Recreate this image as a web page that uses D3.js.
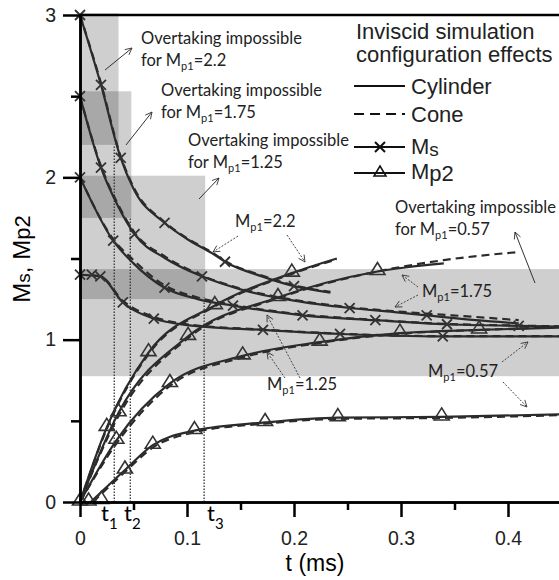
<!DOCTYPE html>
<head>
  <meta charset="utf-8">
  <script src="https://d3js.org/d3.v7.min.js"></script>
  <style>
body {
	margin: 0;
	background: #fff;
	}
.axis text {
	font-family: "Liberation Sans", Arial, sans-serif;
	font-size: 19.5px;
	fill: #222;
	}
.axis path, .axis line {
	stroke: #000;
	stroke-width: 2.5px;
	}
.note {
	font-family: Lato, "Open Sans", sans-serif;
	font-size: 16.5px;
	fill: #222;
	}
.legend {
	font-family: "Liberation Sans", Arial, sans-serif;
	font-size: 22px;
	fill: #222;
	}
  </style>
</head>

<body>
  <div id="graph"></div>
<script>
// shaded "overtaking impossible" zones, one per Mp1
var zoneMp1  = ["2.2", "1.75", "1.25", "0.57"];
var zoneEnd  = [0.036, 0.048, 0.117, 0.45];
var zoneLow  = [2.2, 1.75, 1.25, 0.775];
var zoneHigh = [3.01, 2.53, 2.01, 1.435];

// t1, t2, t3 and the Ms level where each dotted line stops
var tMarks  = [0.032, 0.047, 0.116];
var tMarkTop = [2.2, 1.75, 1.26];

// Ms curves, cylinder (solid)
var ms22  = [[0,3.0],[0.0196,2.57],[0.038,2.12],[0.05,1.93],[0.079,1.72],[0.1,1.62],[0.124,1.53],[0.1355,1.48],[0.17,1.39],[0.2,1.33],[0.234,1.29]];
var ms175 = [[0,2.5],[0.0196,2.06],[0.035,1.83],[0.051,1.65],[0.08,1.5],[0.114,1.39],[0.15,1.31],[0.2,1.24],[0.252,1.195],[0.294,1.17],[0.324,1.15],[0.37,1.12],[0.41,1.1]];
var ms125 = [[0,2.0],[0.031,1.61],[0.05,1.47],[0.079,1.32],[0.11,1.25],[0.143,1.21],[0.208,1.15],[0.276,1.12],[0.343,1.095],[0.41,1.085],[0.45,1.08]];
var ms057 = [[0,1.4],[0.019,1.39],[0.04,1.23],[0.069,1.13],[0.1,1.09],[0.171,1.06],[0.243,1.035],[0.339,1.02],[0.45,1.02]];

// Ms curves, cone (dashed)
var ms22c  = [[0,3.0],[0.0196,2.58],[0.038,2.13],[0.05,1.94],[0.079,1.725],[0.1,1.625],[0.124,1.535],[0.1355,1.485],[0.17,1.395],[0.2,1.335],[0.234,1.295]];
var ms175c = [[0,2.5],[0.0196,2.07],[0.035,1.84],[0.051,1.66],[0.08,1.51],[0.114,1.395],[0.15,1.315],[0.2,1.245],[0.252,1.2],[0.294,1.175],[0.324,1.16],[0.37,1.14],[0.41,1.12]];
var ms125c = [[0,2.0],[0.031,1.62],[0.05,1.49],[0.079,1.335],[0.11,1.26],[0.143,1.215],[0.208,1.155],[0.276,1.122],[0.343,1.097],[0.41,1.087],[0.45,1.082]];
var ms057c = [[0,1.4],[0.019,1.39],[0.04,1.24],[0.069,1.14],[0.1,1.095],[0.171,1.062],[0.243,1.037],[0.339,1.022],[0.45,1.022]];

// Mp2 curves, cylinder (solid)
var mp22  = [[0,0],[0.025,0.46],[0.064,0.92],[0.126,1.21],[0.198,1.41],[0.24,1.5]];
var mp175 = [[0,0],[0.036,0.55],[0.101,1.02],[0.185,1.26],[0.278,1.42],[0.34,1.47]];
var mp125 = [[0,0],[0.034,0.38],[0.084,0.73],[0.152,0.9],[0.224,0.985],[0.299,1.04],[0.373,1.06],[0.45,1.075]];
var mp057 = [[0.01,0],[0.042,0.197],[0.068,0.35],[0.107,0.44],[0.173,0.49],[0.241,0.52],[0.338,0.524],[0.45,0.54]];

// Mp2 curves, cone (dashed)
var mp22c  = [[0,0],[0.025,0.45],[0.064,0.91],[0.126,1.205],[0.198,1.405],[0.24,1.495]];
var mp175c = [[0,0],[0.036,0.53],[0.101,1.01],[0.185,1.255],[0.278,1.42],[0.34,1.49],[0.41,1.54]];
var mp125c = [[0,0],[0.034,0.36],[0.084,0.715],[0.152,0.89],[0.224,0.98],[0.299,1.037],[0.373,1.06],[0.45,1.078]];
var mp057c = [[0.012,0],[0.042,0.185],[0.068,0.335],[0.107,0.43],[0.173,0.483],[0.241,0.512],[0.338,0.518],[0.45,0.535]];

// marker positions
var msMarks = [[0,3.0],[0.0196,2.57],[0.038,2.12],[0.079,1.72],[0.1355,1.48],[0.2,1.33],
               [0,2.5],[0.0196,2.06],[0.051,1.65],[0.114,1.39],[0.252,1.195],[0.324,1.15],
               [0,2.0],[0.031,1.61],[0.079,1.32],[0.143,1.21],[0.208,1.15],[0.276,1.12],[0.343,1.095],[0.41,1.085],
               [0,1.4],[0.011,1.4],[0.019,1.39],[0.04,1.23],[0.069,1.13],[0.171,1.06],[0.243,1.035],[0.339,1.02]];
var mpMarks = [[0,0],[0.025,0.46],[0.064,0.92],[0.126,1.21],[0.198,1.41],
               [0.008,0],[0.036,0.55],[0.101,1.02],[0.185,1.26],[0.278,1.42],
               [0.034,0.38],[0.084,0.73],[0.152,0.9],[0.224,0.985],[0.299,1.04],[0.373,1.06],
               [0.02,0.01],[0.042,0.197],[0.068,0.35],[0.107,0.44],[0.173,0.49],[0.241,0.52],[0.338,0.524]];

var xTicks = [0, 0.1, 0.2, 0.3, 0.4];
var xMinor = [0.05, 0.15, 0.25, 0.35];
var yTicks = [0, 1, 2, 3];
var yMinor = [0.5, 1.5, 2.5];

var W = 559, H = 580;
var x = d3.scaleLinear().domain([0, 0.45]).range([80, 561.5]);
var y = d3.scaleLinear().domain([0, 3]).range([502, 15]);

var svg = d3.select("#graph").append("svg")
    .attr("width", W).attr("height", H);

var defs = svg.append("defs");
defs.append("marker")
    .attr("id", "head").attr("viewBox", "-10 -6 12 12")
    .attr("markerWidth", 10).attr("markerHeight", 10)
    .attr("orient", "auto").attr("markerUnits", "userSpaceOnUse")
  .append("path")
    .attr("d", "M-8,-4L0,0L-8,4")
    .attr("fill", "none").attr("stroke", "#333").attr("stroke-width", 1);

// gray zones
svg.selectAll(".zone").data(zoneEnd).enter().append("rect")
    .attr("class", "zone")
    .attr("x", x(0))
    .attr("y", function(d, i) { return y(zoneHigh[i]); })
    .attr("width", function(d) { return Math.min(x(d), W) - x(0); })
    .attr("height", function(d, i) { return y(zoneLow[i]) - y(zoneHigh[i]); })
    .attr("fill", "#000").attr("fill-opacity", 0.19);

// dotted t lines
svg.selectAll(".tline").data(tMarks).enter().append("line")
    .attr("x1", function(d) { return x(d); }).attr("x2", function(d) { return x(d); })
    .attr("y1", y(0)).attr("y2", function(d, i) { return y(tMarkTop[i]); })
    .attr("stroke", "#333").attr("stroke-width", 1.3).attr("stroke-dasharray", "1.5,1.5");

// curves
var line = d3.line()
    .x(function(d) { return x(d[0]); })
    .y(function(d) { return y(d[1]); })
    .curve(d3.curveMonotoneX);

var solid = [ms22, ms175, ms125, ms057, mp22, mp175, mp125, mp057];
var dashed = [ms22c, ms175c, ms125c, ms057c, mp22c, mp175c, mp125c, mp057c];

svg.selectAll(".cone").data(dashed).enter().append("path")
    .attr("d", line).attr("fill", "none")
    .attr("stroke", "#2b2b2b").attr("stroke-width", 2.2)
    .attr("stroke-dasharray", "8,5");
svg.selectAll(".cyl").data(solid).enter().append("path")
    .attr("d", line).attr("fill", "none")
    .attr("stroke", "#2b2b2b").attr("stroke-width", 2.2);

// markers
svg.selectAll(".xm").data(msMarks).enter().append("path")
    .attr("transform", function(d) { return "translate(" + x(d[0]) + "," + y(d[1]) + ")"; })
    .attr("d", "M-5,-5L5,5M-5,5L5,-5")
    .attr("stroke", "#333").attr("stroke-width", 1.8);
svg.selectAll(".tm").data(mpMarks).enter().append("path")
    .attr("transform", function(d) { return "translate(" + x(d[0]) + "," + y(d[1]) + ")"; })
    .attr("d", "M0,-9L7.5,3L-7.5,3Z")
    .attr("fill", "none").attr("stroke", "#333").attr("stroke-width", 1.6);

// axes
svg.append("g").attr("class", "axis")
    .attr("transform", "translate(0," + y(0) + ")")
    .call(d3.axisBottom(x).tickValues(xTicks).tickSize(15).tickSizeOuter(0).tickPadding(14)
        .tickFormat(function(d) { return d === 0 ? "0" : d3.format(".1f")(d); }));
svg.append("g").attr("class", "axis")
    .attr("transform", "translate(0," + y(0) + ")")
    .call(d3.axisBottom(x).tickValues(xMinor).tickSize(8).tickSizeOuter(0).tickFormat(""));
svg.append("g").attr("class", "axis")
    .attr("transform", "translate(" + x(0) + ",0)")
    .call(d3.axisLeft(y).tickValues(yTicks).tickSize(17).tickSizeOuter(0).tickPadding(7)
        .tickFormat(d3.format("d")));
svg.append("g").attr("class", "axis")
    .attr("transform", "translate(" + x(0) + ",0)")
    .call(d3.axisLeft(y).tickValues(yMinor).tickSize(9).tickSizeOuter(0).tickFormat(""));

// top frame
svg.append("line")
    .attr("x1", x(0)).attr("x2", W).attr("y1", y(3)).attr("y2", y(3))
    .attr("stroke", "#000").attr("stroke-width", 2.5);

// axis titles
svg.append("text")
    .attr("x", 315).attr("y", 571)
    .attr("text-anchor", "middle")
    .style("font-family", "'Liberation Sans', Arial, sans-serif").style("font-size", "23px")
    .text("t (ms)");

var yl = svg.append("text")
    .attr("transform", "translate(30,259) rotate(-90)")
    .attr("text-anchor", "middle")
    .style("font-family", "'Liberation Sans', Arial, sans-serif").style("font-size", "24px");
yl.append("tspan").text("M");
yl.append("tspan").style("font-size", "19px").text("s");
yl.append("tspan").text(", M");
yl.append("tspan").style("font-size", "22px").text("p2");

// t1 t2 t3
var tLabelX = [101, 124, 207];
tLabelX.forEach(function(px, i) {
  var t = svg.append("text").attr("x", px).attr("y", 521)
      .style("font-family", "Lato, sans-serif").style("font-size", "22px");
  t.append("tspan").text("t");
  t.append("tspan").attr("dy", 8).style("font-size", "15px").text(String(i + 1));
});

// legend
svg.append("text").attr("class", "legend").attr("x", 356).attr("y", 39).text("Inviscid simulation");
svg.append("text").attr("class", "legend").attr("x", 356).attr("y", 62).text("configuration effects");
var legY = [86, 114, 147, 173];
svg.append("line").attr("x1", 354).attr("x2", 405).attr("y1", legY[0]).attr("y2", legY[0])
    .attr("stroke", "#111").attr("stroke-width", 2.2);
svg.append("line").attr("x1", 354).attr("x2", 405).attr("y1", legY[1]).attr("y2", legY[1])
    .attr("stroke", "#111").attr("stroke-width", 2.2).attr("stroke-dasharray", "10,6");
svg.append("line").attr("x1", 354).attr("x2", 405).attr("y1", legY[2]).attr("y2", legY[2])
    .attr("stroke", "#111").attr("stroke-width", 2.2);
svg.append("path").attr("transform", "translate(380," + legY[2] + ")")
    .attr("d", "M-5,-5L5,5M-5,5L5,-5").attr("stroke", "#111").attr("stroke-width", 2);
svg.append("line").attr("x1", 354).attr("x2", 405).attr("y1", legY[3]).attr("y2", legY[3])
    .attr("stroke", "#111").attr("stroke-width", 2.2);
svg.append("path").attr("transform", "translate(380," + legY[3] + ")")
    .attr("d", "M0,-7L6,3L-6,3Z").attr("fill", "none").attr("stroke", "#111").attr("stroke-width", 1.5);
svg.append("text").attr("class", "legend").attr("x", 411).attr("y", legY[0] + 8).text("Cylinder");
svg.append("text").attr("class", "legend").attr("x", 411).attr("y", legY[1] + 8).text("Cone");
var lm = svg.append("text").attr("class", "legend").attr("x", 411).attr("y", legY[2] + 7);
lm.append("tspan").text("M");
lm.append("tspan").attr("dy", 2).style("font-size", "19px").text("s");
var lp = svg.append("text").attr("class", "legend").attr("x", 411).attr("y", legY[3] + 6);
lp.append("tspan").text("M");
lp.append("tspan").attr("dy", 2).text("p2");

// "Overtaking impossible" notes
var noteX = [141, 161, 188, 395];
var noteY = [44, 96, 146, 213];
noteX.forEach(function(px, i) {
  svg.append("text").attr("class", "note").attr("x", px).attr("y", noteY[i]).text("Overtaking impossible");
  var f = svg.append("text").attr("class", "note").attr("x", px).attr("y", noteY[i] + 22);
  f.append("tspan").text("for M");
  f.append("tspan").attr("dy", 4).style("font-size", "11px").text("p1");
  f.append("tspan").attr("dy", -4).text("=" + zoneMp1[i]);
});
var noteArrows = [[105,70,132,48],[126,145,152,112],[199,199,219,178],[535,283,515,232]];
svg.selectAll(".narrow").data(noteArrows).enter().append("line")
    .attr("x1", function(d) { return d[0]; }).attr("y1", function(d) { return d[1]; })
    .attr("x2", function(d) { return d[2]; }).attr("y2", function(d) { return d[3]; })
    .attr("stroke", "#333").attr("stroke-width", 1).attr("marker-end", "url(#head)");

// Mp1 labels on the curves
var labMp1 = ["2.2", "1.75", "1.25", "0.57"];
var labX = [235, 422, 267, 428];
var labY = [227, 297, 390, 377];
labMp1.forEach(function(v, i) {
  var t = svg.append("text").attr("class", "note").attr("x", labX[i]).attr("y", labY[i]);
  t.append("tspan").text("M");
  t.append("tspan").attr("dy", 4).style("font-size", "11px").text("p1");
  t.append("tspan").attr("dy", -4).text("=" + v);
});
var labArrows = [[238,236,213,252],[287,235,305,262],[418,287,402,275],[418,295,395,307],
                 [300,378,267,315],[285,378,267,352],[502,362,528,342],[503,382,527,407]];
svg.selectAll(".larrow").data(labArrows).enter().append("line")
    .attr("x1", function(d) { return d[0]; }).attr("y1", function(d) { return d[1]; })
    .attr("x2", function(d) { return d[2]; }).attr("y2", function(d) { return d[3]; })
    .attr("stroke", "#444").attr("stroke-width", 1).attr("stroke-dasharray", "2,1.5")
    .attr("marker-end", "url(#head)");
</script>
</body>
